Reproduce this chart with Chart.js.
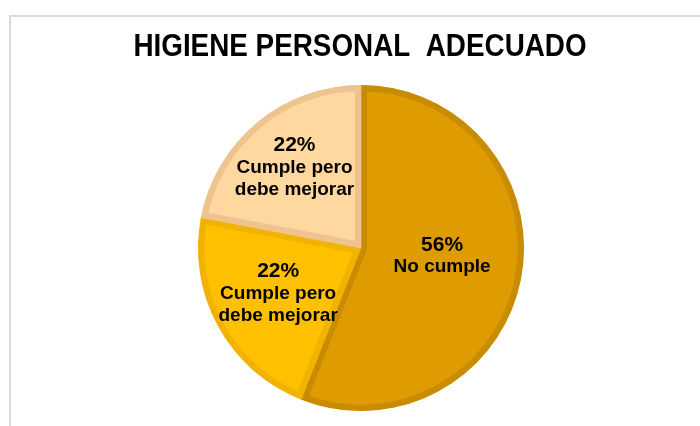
<!DOCTYPE html>
<html>
<head>
<meta charset="utf-8">
<script src="https://cdn.jsdelivr.net/npm/chart.js@4"></script>
<style>
    body { margin: 0; background: #fff; }
    #frame {
        position: absolute; left: 9px; top: 15px; width: 720px; height: 440px;
        border-top: 2px solid #dadada; border-left: 2px solid #dadada;
    }
    #wrap { position: absolute; left: 0; top: 0; width: 700px; height: 426px; }
</style>
</head>
<body>
<div id="frame"></div>
<div id="wrap"><canvas id="chartPie"></canvas></div>
<script>
const titleText = 'HIGIENE PERSONAL  ADECUADO';
const categories = [['No cumple'], ['Cumple pero', 'debe mejorar'], ['Cumple pero', 'debe mejorar']];
const percentages = [56, 22, 22];

const fillColors = ['#DF9C00', '#FFC000', '#FFD8A0'];
const borderColors = ['#C98C00', '#F2B200', '#EEC38F'];
// label block placement: fraction of radius, and a small angle nudge in degrees
const labelRadius = [0.5, 0.58, 0.64];
const labelNudge = [-5, 0, 0];

// title drawn a little condensed, like the narrow bold font in the original
const narrowTitle = {
    id: 'narrowTitle',
    afterDraw(chart) {
        const ctx = chart.ctx;
        const sx = 0.87;
        ctx.save();
        ctx.font = 'bold 32px "Liberation Sans", Arial, sans-serif';
        ctx.fillStyle = '#000';
        ctx.textAlign = 'center';
        ctx.textBaseline = 'middle';
        ctx.translate(chart.width / 2 + 10, 47);
        ctx.scale(sx, 1);
        ctx.fillText(titleText, 0, 0);
        ctx.restore();
    }
};

const sliceLabels = {
    id: 'sliceLabels',
    afterDatasetsDraw(chart) {
        const ctx = chart.ctx;
        const meta = chart.getDatasetMeta(0);
        meta.data.forEach((arc, i) => {
            const p = arc.getProps(['x', 'y', 'startAngle', 'endAngle', 'outerRadius'], true);
            const mid = (p.startAngle + p.endAngle) / 2 + labelNudge[i] * Math.PI / 180;
            const r = p.outerRadius * labelRadius[i];
            const cx = p.x + Math.cos(mid) * r;
            const cy = p.y + Math.sin(mid) * r;
            const lines = [percentages[i] + '%'].concat(categories[i]);
            const lineH = 22;
            const top = cy - (lines.length - 1) * lineH / 2;
            ctx.save();
            ctx.fillStyle = '#000';
            ctx.textAlign = 'center';
            ctx.textBaseline = 'middle';
            lines.forEach((txt, k) => {
                ctx.font = k === 0 ? 'bold 21px "Liberation Sans", Arial, sans-serif'
                                   : 'bold 19px "Liberation Sans", Arial, sans-serif';
                ctx.fillText(txt, cx, top + k * lineH);
            });
            ctx.restore();
        });
    }
};

const ctx = document.getElementById('chartPie').getContext('2d');
new Chart(ctx, {
    type: 'pie',
    data: {
        labels: categories,
        datasets: [{
            data: percentages,
            backgroundColor: fillColors,
            borderColor: borderColors,
            borderWidth: 6,
            borderAlign: 'inner',
            hoverOffset: 0,
            radius: 163
        }]
    },
    options: {
        responsive: true,
        maintainAspectRatio: false,
        animation: false,
        layout: { padding: { left: 22, right: 0, top: 85, bottom: 15 } },
        plugins: {
            legend: { display: false },
            tooltip: { enabled: false },
            title: { display: false }
        }
    },
    plugins: [sliceLabels, narrowTitle]
});
</script>
</body>
</html>
